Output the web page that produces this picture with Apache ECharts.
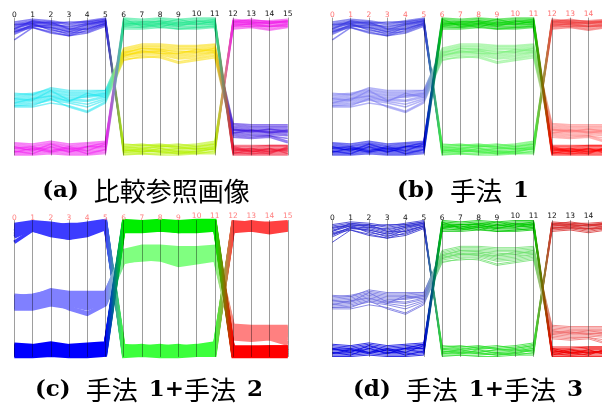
<!DOCTYPE html>
<html><head><meta charset="utf-8">
<script src="https://cdn.jsdelivr.net/npm/echarts@6/dist/echarts.min.js"></script>
<style>html,body{margin:0;padding:0;background:#fff}#c{width:602px;height:410px}</style>
</head><body><div id="c"></div>
<script>
// axis names (16 dimensions)
const axisNames = ['0','1','2','3','4','5','6','7','8','9','10','11','12','13','14','15'];

// cluster 1: top on axes 0-5, bottom on 6-11, top on 12-15
const cluster1Lines = [
  [96, 98, 97, 95, 97, 99, 8, 7, 8, 6, 7, 9, 98, 98, 97, 98],
  [94, 97, 96, 93, 96, 98, 6, 5, 7, 5, 6, 8, 97, 97, 96, 97],
  [92, 96, 94, 91, 95, 97, 5, 6, 5, 4, 5, 7, 96, 96, 95, 96],
  [90, 95, 93, 90, 94, 97, 4, 3, 4, 3, 4, 6, 95, 95, 94, 96],
  [89, 95, 92, 88, 93, 96, 3, 4, 2, 3, 2, 5, 94, 96, 94, 95],
  [84, 93, 90, 87, 91, 95, 2, 2, 3, 1, 3, 4, 93, 94, 92, 94],
  [97, 99, 98, 96, 98, 100, 1, 1, 1, 2, 1, 3, 99, 98, 98, 99],
  [91, 94, 95, 92, 92, 96, 7, 8, 6, 7, 8, 10, 96, 97, 96, 97],
  [93, 96, 91, 89, 90, 95, 5, 4, 6, 6, 4, 6, 95, 95, 93, 95],
  [95, 97, 95, 94, 96, 98, 3, 5, 3, 5, 5, 4, 97, 96, 97, 97],
  [88, 94, 93, 90, 92, 96, 6, 7, 7, 8, 6, 8, 94, 94, 94, 94],
  [92, 98, 96, 97, 97, 99, 2, 3, 2, 1, 2, 2, 98, 97, 96, 98],
  [90, 93, 89, 87, 89, 94, 4, 2, 5, 2, 3, 5, 92, 93, 91, 93],
  [95, 96, 97, 92, 95, 98, 0, 1, 0, 0, 1, 1, 97, 99, 97, 98]
];

// cluster 2: middle on axes 0-5, upper-middle on 6-11, lower-middle on 12-15
const cluster2Lines = [
  [44, 45, 48, 46, 46, 47, 77, 80, 80, 79, 79, 80, 22, 21, 21, 21],
  [43, 44, 47, 45, 45, 46, 76, 79, 79, 78, 78, 79, 21, 20, 20, 20],
  [42, 43, 46, 44, 44, 45, 75, 78, 78, 77, 77, 78, 20, 19, 19, 19],
  [41, 42, 45, 43, 43, 44, 75, 77, 77, 75, 76, 77, 19, 18, 18, 18],
  [40, 41, 44, 42, 42, 44, 74, 76, 76, 74, 75, 76, 18, 18, 17, 17],
  [39, 40, 43, 41, 40, 43, 73, 75, 76, 73, 74, 75, 18, 17, 17, 16],
  [38, 39, 42, 40, 39, 42, 73, 75, 75, 72, 73, 75, 17, 16, 16, 15],
  [37, 38, 41, 39, 37, 41, 72, 74, 74, 71, 72, 74, 16, 15, 15, 14],
  [36, 37, 40, 38, 35, 40, 71, 73, 73, 70, 71, 73, 15, 14, 14, 12],
  [35, 35, 38, 36, 32, 39, 70, 71, 72, 68, 70, 72, 14, 13, 14, 10],
  [45, 44, 49, 47, 47, 47, 78, 81, 81, 80, 80, 81, 23, 22, 22, 22],
  [41, 40, 47, 40, 43, 45, 74, 78, 77, 76, 75, 78, 19, 17, 19, 17],
  [38, 41, 43, 39, 45, 42, 72, 76, 74, 74, 77, 76, 16, 18, 16, 18],
  [36, 36, 41, 35, 31, 38, 69, 72, 71, 67, 69, 71, 13, 12, 13, 9]
];

// cluster 3: bottom on axes 0-5, top on 6-11, bottom on 12-15
const cluster3Lines = [
  [8, 7, 9, 7, 8, 9, 99, 98, 99, 98, 99, 99, 6, 6, 7, 7],
  [7, 6, 8, 6, 7, 8, 98, 97, 98, 97, 98, 98, 5, 5, 6, 6],
  [6, 5, 7, 5, 6, 7, 97, 97, 97, 96, 97, 97, 4, 4, 5, 5],
  [5, 4, 6, 4, 5, 6, 96, 96, 96, 95, 96, 97, 4, 3, 4, 4],
  [4, 4, 5, 3, 4, 5, 96, 95, 96, 95, 95, 96, 3, 3, 3, 4],
  [3, 3, 4, 3, 3, 4, 95, 94, 95, 94, 94, 95, 2, 2, 3, 3],
  [2, 2, 3, 2, 2, 3, 94, 93, 95, 93, 93, 94, 2, 1, 2, 2],
  [1, 1, 2, 1, 1, 2, 93, 93, 94, 92, 93, 94, 1, 1, 1, 1],
  [0, 0, 1, 0, 0, 1, 92, 92, 93, 92, 92, 93, 0, 0, 0, 0],
  [9, 8, 10, 8, 9, 10, 100, 99, 100, 99, 100, 100, 7, 7, 7, 7],
  [5, 6, 3, 6, 3, 8, 97, 95, 98, 96, 98, 96, 3, 5, 2, 5],
  [3, 1, 6, 2, 6, 6, 94, 96, 93, 97, 95, 98, 5, 2, 5, 1],
  [6, 3, 8, 4, 6, 9, 95, 97, 97, 94, 97, 99, 1, 4, 4, 3],
  [2, 5, 2, 5, 1, 4, 99, 94, 96, 99, 96, 95, 6, 3, 1, 6]
];

const captionTexts = [
  '{l|(a)}{s|}{j|比較参照画像}',
  '{l|(b)}{s|}{j|手法}{t|}{l|1}',
  '{l|(c)}{s|}{j|手法}{t|}{l|1+}{j|手法}{t|}{l|2}',
  '{l|(d)}{s|}{j|手法}{t|}{l|1+}{j|手法}{t|}{l|3}'
];

const clusters = [cluster1Lines, cluster2Lines, cluster3Lines];

const panels = [
  { left: 14.3, top: 18, width: 273.5, height: 137, label: '#111', lw: 1.5, op: 0.55,
    colors: [['#2a1ee6', '#b4f000', '#f01ee8'], ['#1ee6f0', '#fadc00', '#3c14e0'], ['#f01ef0', '#1ee68c', '#f01432']],
    cap: [146, 191] },
  { left: 332.3, top: 18, width: 274.5, height: 137, label: '#ff7070', lw: 1.5, op: 0.55,
    colors: [['#3232e0', '#3cf03c', '#f04040'], ['#7878f0', '#78f078', '#ff7878'], ['#0000e6', '#00d200', '#ff0000']],
    cap: [463, 191] },
  { left: 14.3, top: 220.5, width: 273.5, height: 136, label: '#ff8080', lw: 3.5, op: 1,
    colors: [['#3c3cff', '#3cff3c', '#ff4040'], ['#8080ff', '#80ff80', '#ff8080'], ['#0000ff', '#00ee00', '#ff0000']],
    cap: [149, 390] },
  { left: 332.3, top: 220.5, width: 274.5, height: 136, label: '#111', lw: 1, op: 0.8,
    colors: [['#3030d0', '#30e030', '#d83030'], ['#7070e0', '#70e070', '#f07070'], ['#0000e0', '#00c800', '#f00000']],
    cap: [468, 390] }
];

function grad(x0, x1, cols) {
  const n = axisNames.length - 1;
  return new echarts.graphic.LinearGradient(x0, 0, x1, 0, [
    { offset: 0, color: cols[0] }, { offset: 5 / n, color: cols[0] },
    { offset: 6 / n, color: cols[1] }, { offset: 11 / n, color: cols[1] },
    { offset: 12 / n, color: cols[2] }, { offset: 1, color: cols[2] }
  ], true);
}

const axisCommon = {
  type: 'value', min: 0, max: 100,
  nameLocation: 'end', nameGap: -1.5,
  axisLine: { show: true, lineStyle: { color: 'rgba(0,0,0,0.38)', width: 1 } },
  axisTick: { show: false },
  axisLabel: { show: false, color: 'rgba(0,0,0,0)' },
  splitLine: { show: false }
};

const parallel = [], parallelAxis = [], series = [], graphic = [];
panels.forEach((p, pi) => {
  parallel.push({
    left: p.left, top: p.top, width: p.width, height: p.height,
    layout: 'horizontal', axisExpandable: false,
    parallelAxisDefault: axisCommon
  });
  axisNames.forEach((nm, di) => {
    parallelAxis.push(Object.assign({}, axisCommon, {
      dim: di, parallelIndex: pi, name: nm,
      nameTextStyle: { fontSize: 7.5, color: p.label, fontFamily: 'DejaVu Sans' },
      axisLabel: { show: false, color: 'rgba(0,0,0,0)', fontSize: 1 }
    }));
  });
  clusters.forEach((lines, ci) => {
    series.push({
      type: 'parallel', parallelIndex: pi, data: lines, silent: true, animation: false, z: 2,
      lineStyle: { color: grad(p.left, p.left + p.width, p.colors[ci]), width: p.lw, opacity: p.op },
      emphasis: { disabled: true }
    });
  });
  graphic.push({
    type: 'text', x: p.cap[0], y: p.cap[1],
    style: {
      text: captionTexts[pi], align: 'center', verticalAlign: 'middle',
      fontSize: 23, fontFamily: 'DejaVu Serif', fontWeight: 'bold', fill: '#000',
      rich: {
        l: { fontSize: 23, fontFamily: 'DejaVu Serif', fontWeight: 'bold', fill: '#000' },
        s: { width: 15 },
        t: { width: 11 },
        j: { fontSize: 26, fontFamily: 'Noto Sans CJK JP', fontWeight: 'normal', fill: '#000' }
      }
    }
  });
});

const chart = echarts.init(document.getElementById('c'), null, { renderer: 'canvas' });
chart.setOption({ animation: false, backgroundColor: '#fff', parallel, parallelAxis, series, graphic });
</script></body></html>
